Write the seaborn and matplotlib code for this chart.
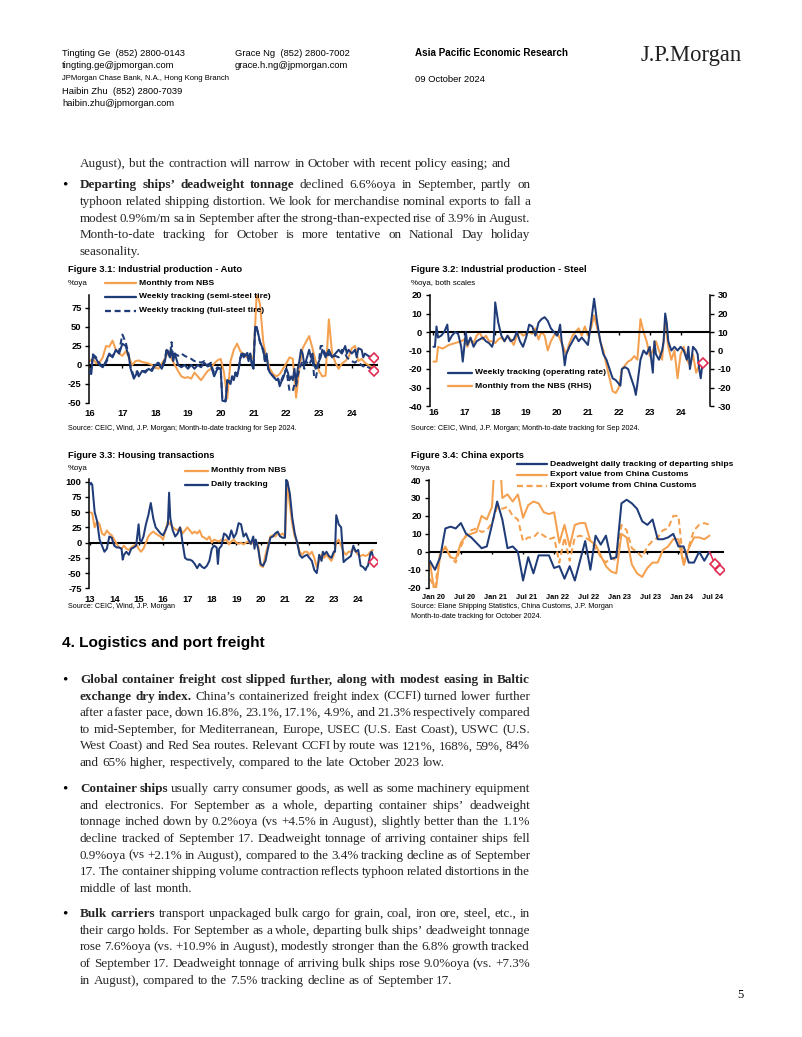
import numpy as np
import pandas as pd
import matplotlib
matplotlib.use("Agg")
import matplotlib.pyplot as plt
import seaborn as sns
from matplotlib.lines import Line2D

sns.set_style("white")
SANS = ['Liberation Sans', 'DejaVu Sans']
SERIF = ['Liberation Serif', 'DejaVu Serif']
plt.rcParams['font.family'] = SANS
plt.rcParams['axes.linewidth'] = 0.9

ORANGE = '#F4A04E'
BLUE = '#1F3C78'
RED = '#E02A50'

# ---------------- DATA ----------------
# Fig 3.1 Auto (%oya)
auto_nbs_start = 2016.0
auto_nbs_v = [5, 8, 2, 3, 10, 25, 24, 32, 20, 15,
              12, 18, 10, 0, 5, 6, 4, 3, 2, 0,
              -3, -5, 2, 8, 18, 8, 0, -8, -15, -17,
              -16, -18, -10, -15, -20, -14, -8, -5, 2, 6,
              8, -10, -44, 5, 20, 28, 18, 14, 10, 12,
              8, 95, 80, 30, 8, -5, -12, -15, -12, -5,
              2, 10, 8, -43, -5, 22, 30, 38, 22, 5,
              -8, -15, -14, 60, 15, 3, -5, 2, 5, 10,
              22, 25, 5, 8, 3, 0, -3]
auto_semi = [(2016.0,-10),(2016.05,-12),(2016.1,12),(2016.2,8),(2016.3,0),(2016.4,-3),(2016.5,5),(2016.6,15),(2016.7,10),(2016.8,20),(2016.9,15),(2017.0,28),(2017.1,25),(2017.2,10),(2017.25,-5),(2017.35,-18),(2017.45,-10),(2017.5,-15),(2017.6,-8),(2017.7,-10),(2017.8,-5),(2017.9,-8),(2018.0,0),(2018.1,2),(2018.2,-5),(2018.3,5),(2018.35,20),(2018.45,10),(2018.5,20),(2018.55,5),(2018.6,15),(2018.7,0),(2018.8,-3),(2018.9,0),(2019.0,-5),(2019.1,0),(2019.2,-5),(2019.3,0),(2019.4,-3),(2019.5,3),(2019.6,-2),(2019.7,0),(2019.75,-8),(2019.8,-15),(2019.9,-5),(2020.0,-5),(2020.05,-47),(2020.15,-48),(2020.2,-20),(2020.3,-25),(2020.35,-15),(2020.4,-20),(2020.45,-10),(2020.5,-15),(2020.55,-5),(2020.6,10),(2020.65,15),(2020.7,10),(2020.8,15),(2020.85,5),(2020.9,15),(2020.95,0),(2021.0,-5),(2021.05,50),(2021.1,50),(2021.2,30),(2021.3,20),(2021.35,5),(2021.4,15),(2021.45,-5),(2021.5,-10),(2021.6,-15),(2021.7,-20),(2021.75,-18),(2021.8,-28),(2021.85,-22),(2021.9,-18),(2022.0,-5),(2022.05,-10),(2022.1,-20),(2022.15,-15),(2022.2,-20),(2022.25,-5),(2022.3,-25),(2022.35,-5),(2022.4,5),(2022.45,20),(2022.5,15),(2022.55,0),(2022.6,5),(2022.7,20),(2022.75,10),(2022.8,15),(2022.85,0),(2022.9,-5),(2023.0,5),(2023.05,10),(2023.1,20),(2023.15,15),(2023.2,10),(2023.25,15),(2023.3,20),(2023.4,10),(2023.5,15),(2023.6,20),(2023.7,15),(2023.8,25),(2023.85,15),(2023.9,20),(2024.0,15),(2024.1,20),(2024.15,10),(2024.2,22),(2024.3,20),(2024.35,10),(2024.4,15),(2024.5,12),(2024.6,10)]
auto_full = [(2016.0,-12),(2016.05,-5),(2016.1,14),(2016.2,10),(2016.3,2),(2016.4,-2),(2016.5,3),(2016.6,12),(2016.7,12),(2016.8,18),(2016.9,18),(2017.0,40),(2017.1,30),(2017.2,12),(2017.25,-3),(2017.35,-15),(2017.45,-8),(2017.5,-12),(2017.6,-8),(2017.7,-8),(2017.8,-5),(2017.9,-6),(2018.0,2),(2018.1,3),(2018.2,-3),(2018.3,8),(2018.35,22),(2018.45,12),(2018.5,30),(2018.55,10),(2018.6,15),(2018.7,12),(2018.8,15),(2018.9,12),(2019.0,10),(2019.1,8),(2019.2,5),(2019.3,5),(2019.4,3),(2019.5,5),(2019.6,0),(2019.7,3),(2019.75,-5),(2019.8,-10),(2019.9,-3),(2020.0,-5),(2020.05,-45),(2020.15,-47),(2020.2,-20),(2020.3,-22),(2020.35,-15),(2020.4,-18),(2020.45,-10),(2020.5,-12),(2020.55,-5),(2020.6,8),(2020.65,18),(2020.7,12),(2020.8,18),(2020.85,8),(2020.9,15),(2020.95,2),(2021.0,-3),(2021.05,48),(2021.1,48),(2021.2,30),(2021.3,18),(2021.35,5),(2021.4,12),(2021.45,-5),(2021.5,-10),(2021.6,-15),(2021.7,-20),(2021.75,-18),(2021.8,-25),(2021.85,-20),(2021.9,-15),(2022.0,-5),(2022.05,-20),(2022.1,-34),(2022.2,-34),(2022.25,-25),(2022.3,-28),(2022.35,-15),(2022.4,-5),(2022.45,0),(2022.5,5),(2022.55,-5),(2022.6,5),(2022.7,0),(2022.75,5),(2022.8,10),(2022.85,-15),(2022.9,-18),(2023.0,5),(2023.05,25),(2023.1,25),(2023.15,18),(2023.2,15),(2023.25,10),(2023.3,15),(2023.4,10),(2023.5,12),(2023.6,10),(2023.7,20),(2023.8,15),(2023.85,10),(2023.9,8),(2024.0,5),(2024.1,3),(2024.15,5),(2024.2,3),(2024.3,0),(2024.35,-2),(2024.4,0),(2024.5,-3),(2024.6,-5)]
auto_mtd_t = 2024.67
auto_semi_mtd = 9
auto_full_mtd = -8

# Fig 3.2 Steel (%oya): weekly on left scale, NBS monthly on right scale
steel_wk = [(2016.0,-8),(2016.05,-8),(2016.1,3),(2016.15,-3),(2016.25,-2),(2016.35,0),(2016.45,4),(2016.5,-5),(2016.6,-2),(2016.7,0),(2016.8,-1),(2016.9,-8),(2016.95,-16),(2017.05,0),(2017.1,-7),(2017.2,-3),(2017.3,-8),(2017.4,-5),(2017.5,-4),(2017.6,-3),(2017.7,-5),(2017.8,-6),(2017.9,-8),(2017.95,-5),(2018.0,16),(2018.1,5),(2018.2,-2),(2018.3,-5),(2018.4,-2),(2018.5,-5),(2018.6,-4),(2018.7,0),(2018.8,-5),(2018.9,-8),(2019.0,-3),(2019.1,4),(2019.2,3),(2019.3,-2),(2019.4,5),(2019.5,7),(2019.6,8),(2019.7,6),(2019.8,2),(2019.9,0),(2020.0,-2),(2020.05,0),(2020.1,4),(2020.15,-5),(2020.2,-10),(2020.25,-18),(2020.3,-12),(2020.4,-8),(2020.5,-5),(2020.6,-2),(2020.7,-5),(2020.8,-3),(2020.9,-5),(2021.0,-7),(2021.1,5),(2021.2,18),(2021.3,5),(2021.4,-5),(2021.5,-12),(2021.6,-15),(2021.7,-20),(2021.8,-25),(2021.9,-26),(2022.0,-28),(2022.05,-29),(2022.1,-20),(2022.2,-19),(2022.3,-20),(2022.4,-25),(2022.5,-30),(2022.55,-34),(2022.6,-28),(2022.7,-15),(2022.8,-10),(2022.9,-12),(2023.0,-8),(2023.1,-22),(2023.15,-5),(2023.2,-12),(2023.3,-15),(2023.4,-10),(2023.45,-5),(2023.5,10),(2023.55,5),(2023.6,-5),(2023.7,-10),(2023.8,-8),(2023.9,-10),(2024.0,-8),(2024.1,-10),(2024.2,-15),(2024.25,-8),(2024.3,-20),(2024.35,-15),(2024.4,-8),(2024.5,-10),(2024.55,-12),(2024.6,-20),(2024.65,-25),(2024.7,-18)]
steel_nbs = [(2016.0,-6),(2016.1,-6),(2016.15,2),(2016.3,1),(2016.5,3),(2016.7,4),(2016.9,5),(2017.0,6),(2017.1,2),(2017.2,6),(2017.3,4),(2017.4,8),(2017.5,10),(2017.6,6),(2017.7,8),(2017.8,5),(2017.9,5),(2018.0,4),(2018.1,6),(2018.2,7),(2018.3,5),(2018.4,8),(2018.5,6),(2018.6,3),(2018.7,8),(2018.8,10),(2018.9,8),(2019.0,9),(2019.1,10),(2019.2,9),(2019.3,12),(2019.4,6),(2019.5,10),(2019.6,8),(2019.7,0),(2019.8,5),(2019.9,8),(2020.0,10),(2020.2,2),(2020.3,-2),(2020.4,4),(2020.5,8),(2020.6,10),(2020.7,12),(2020.8,8),(2020.9,13),(2021.0,8),(2021.1,12),(2021.2,19),(2021.3,12),(2021.4,5),(2021.5,0),(2021.6,-8),(2021.7,-15),(2021.8,-22),(2021.9,-23),(2022.0,-20),(2022.1,-10),(2022.2,-8),(2022.3,-6),(2022.4,-5),(2022.5,-3),(2022.6,-5),(2022.7,17),(2022.8,10),(2022.9,5),(2023.0,-3),(2023.1,0),(2023.2,5),(2023.3,0),(2023.4,-5),(2023.5,15),(2023.6,2),(2023.7,-5),(2023.8,0),(2023.9,-15),(2024.0,-2),(2024.1,2),(2024.2,-5),(2024.3,-8),(2024.4,-2),(2024.5,-12),(2024.6,-8)]
steel_mtd = (2024.72, -17)

# Fig 3.3 Housing transactions (%oya)
hous_nbs_start = 2013.0
hous_nbs_v = [50, 48, 25, 35, 30, 15, 12, 20, 15, 12,
              5, -2, -8, -10, -5, -10, -12, -8, -5, -3,
              -10, -15, -10, 0, 10, 15, 18, 15, 12, 10,
              5, 20, 35, 30, 25, 22, 20, 25, 15, 20,
              25, 20, 15, 18, 15, 20, 10, 8, 5, 10,
              0, 5, 3, 2, 5, 3, 5, -3, 2, 5,
              0, -2, 0, -3, 0, 2, -2, 0, 2, -5,
              -38, -40, -20, -5, 10, 12, 10, 15, 12, 15,
              10, 100, 60, 30, 10, 0, -15, -20, -15, -15,
              -20, -15, -25, -40, -30, -20, -25, -20, -25, -30,
              -20, 0, 5, -5, -15, -20, -15, -15, -10, -15,
              -20, -22, -20, -22, -20, -15, -12]
hous_daily = [(2013.0,95),(2013.05,98),(2013.1,95),(2013.2,50),(2013.3,35),(2013.4,5),(2013.5,-5),(2013.6,-15),(2013.7,-10),(2013.8,10),(2013.9,8),(2014.0,-5),(2014.1,-8),(2014.2,-8),(2014.3,-10),(2014.35,-28),(2014.4,-20),(2014.5,-15),(2014.6,-20),(2014.7,-10),(2014.8,-8),(2014.9,-5),(2015.0,30),(2015.05,5),(2015.1,0),(2015.2,10),(2015.3,30),(2015.4,45),(2015.5,65),(2015.6,40),(2015.7,25),(2015.8,20),(2015.9,15),(2016.0,12),(2016.1,20),(2016.2,30),(2016.25,82),(2016.3,40),(2016.4,20),(2016.5,10),(2016.6,15),(2016.7,25),(2016.75,15),(2016.8,0),(2016.9,-25),(2017.0,-28),(2017.1,-28),(2017.2,-30),(2017.3,-35),(2017.4,-42),(2017.5,-35),(2017.6,-40),(2017.7,-42),(2017.8,-38),(2017.9,-30),(2018.0,-10),(2018.1,-5),(2018.2,-8),(2018.25,-35),(2018.3,-10),(2018.4,-5),(2018.5,15),(2018.6,12),(2018.7,5),(2018.8,20),(2018.9,8),(2019.0,15),(2019.1,32),(2019.2,30),(2019.3,10),(2019.4,15),(2019.5,5),(2019.6,-2),(2019.7,10),(2019.75,-10),(2019.8,5),(2019.9,-10),(2020.0,-35),(2020.1,-38),(2020.2,-30),(2020.3,-10),(2020.4,8),(2020.5,10),(2020.6,15),(2020.7,18),(2020.8,10),(2020.9,8),(2021.0,8),(2021.05,103),(2021.1,100),(2021.2,80),(2021.3,40),(2021.4,15),(2021.5,0),(2021.6,-20),(2021.7,-25),(2021.8,-22),(2021.9,-20),(2022.0,-25),(2022.1,-30),(2022.2,-45),(2022.3,-50),(2022.35,-38),(2022.4,-20),(2022.5,-30),(2022.55,-15),(2022.6,-20),(2022.7,-15),(2022.8,-22),(2022.9,-25),(2023.0,-15),(2023.05,-15),(2023.1,45),(2023.2,30),(2023.3,25),(2023.4,-32),(2023.5,-28),(2023.6,-25),(2023.7,-22),(2023.8,-5),(2023.9,-15),(2024.0,-12),(2024.1,-38),(2024.2,-40),(2024.3,-45),(2024.35,-40),(2024.4,-38),(2024.5,-18),(2024.55,-15),(2024.6,-22)]
hous_mtd = (2024.66, -32)

# Fig 3.4 China exports (%oya), monthly; month 0 = Jan 2020
exp_first_month = 1
exp_dwt = [-5, -10, -3, 13, 14, 13, 16, 10, 8, 5, 2, 3, 15, 28, 18, 2, 3, 0, -16, -3,
           -12, -2, -2, -2, -9, -8, -15, -8, -16, -5, 6, -10, 9, 4, 9, -4, -3, 27, 29, 27,
           24, 17, 15, 18, 7, 7, 8, 10, 3, 3, -6, -6, 0, -5, 0]
exp_value = [-5, -25, -2, 3, -3, -4, 5, 9, 10, 11, 20, 18, 25, 75, 30, 32, 28, 32, 19, 26,
             28, 27, 22, 21, 22, 5, 15, 3, 15, 16, 16, 6, 4, -2, -8, -11, -12, 10, 8, -7,
             -12, -14, -9, -6, -6, 1, 3, 7, 7, -7, 2, 8, 8, 7, 9]
exp_volume = [-15, -20, 0, 2, -3, -6, 3, 9, 12, 13, 11, 12, 16, 25, 24, 25, 20, 18, 6, 8,
              8, 11, 9, 7, 8, -6, 8, -5, 8, 9, 8, 6, 2, -3, -6, -3, -5, 15, 12, 2,
              0, -3, 3, 6, 8, 12, 13, 20, 20, -8, 3, 12, 15, 16, 15]
exp_mtd_months = [56, 57]
exp_mtd_vals = [-6.6, -10]
exp_tick_labels = ['Jan 20', 'Jul 20', 'Jan 21', 'Jul 21', 'Jan 22', 'Jul 22',
                   'Jan 23', 'Jul 23', 'Jan 24', 'Jul 24']

# ---------------- FIGURE ----------------
W, H = 802, 1037
fig = plt.figure(figsize=(W / 100, H / 100), dpi=100)
fig.patch.set_facecolor('white')
R = fig.canvas.get_renderer()


def fx(x):
    return x / W


def fy(y):
    return 1 - y / H


def text_width(s, size, family, weight='normal'):
    t = fig.text(0, 0, s, fontsize=size, family=family, weight=weight)
    w = t.get_window_extent(R).width
    t.remove()
    return w


def fit(s, target, family, weight='normal'):
    return 10 * target / text_width(s, 10, family, weight)


def put(x, y, s, size, family=SANS, weight='normal', ha='left', color='black'):
    return fig.text(fx(x), fy(y), s, fontsize=size, family=family, weight=weight,
                    ha=ha, va='center', color=color)


def para_line(x0, x1, y, s, nbold, size, justify=True):
    words = s.split(' ')
    objs, widths = [], []
    for i, w in enumerate(words):
        t = fig.text(0, fy(y), w, fontsize=size, family=SERIF,
                     weight='bold' if i < nbold else 'normal', va='center')
        objs.append(t)
        widths.append(t.get_window_extent(R).width)
    space = size * 100 / 72 * 0.25
    if justify and len(words) > 1:
        gap = (x1 - x0 - sum(widths)) / (len(words) - 1)
    else:
        gap = space
    x = x0
    for t, w in zip(objs, widths):
        t.set_x(fx(x))
        x += w + gap


# font sizes fitted to measured widths (slightly enlarged: reference uses a narrow face)
HS = fit("Tingting Ge  (852) 2800-0143", 118, SANS) * 1.04
BODY = fit("August), but the contraction will narrow in October with recent policy easing; and", 431, SERIF)
TFS = fit("Figure 3.1: Industrial production - Auto", 167, SANS, 'bold') * 1.04
LFS = fit("Weekly tracking (semi-steel tire)", 125, SANS, 'bold') * 1.04
TKS = LFS * 1.1
XKS4 = fit("Jan 20", 23, SANS, 'bold')
SFS = fit("Source: CEIC, Wind, J.P. Morgan; Month-to-date tracking for Sep 2024.", 222, SANS) * 1.03
LW = 1.45

# ---------------- HEADER ----------------
put(62, 53, "Tingting Ge  (852) 2800-0143", HS)
put(62, 66, "tingting.ge@jpmorgan.com", HS)
put(62, 78, "JPMorgan Chase Bank, N.A., Hong Kong Branch",
    fit("JPMorgan Chase Bank, N.A., Hong Kong Branch", 167, SANS))
put(62, 91, "Haibin Zhu  (852) 2800-7039", HS)
put(62, 103, "haibin.zhu@jpmorgan.com", HS)
put(235, 53, "Grace Ng  (852) 2800-7002", HS)
put(235, 66, "grace.h.ng@jpmorgan.com", HS)
put(415, 53, "Asia Pacific Economic Research",
    fit("Asia Pacific Economic Research", 152, SANS, 'bold'), weight='bold')
put(415, 80, "09 October 2024", HS)
put(641, 55, "J.P.Morgan", fit("J.P.Morgan", 101, SERIF), family=SERIF, color='#222222')

# ---------------- BODY TEXT ----------------
XL, XR = 80, 530
para_line(XL, XR, 164, "August), but the contraction will narrow in October with recent policy easing; and", 0, BODY, False)


def bullet_par(y0, lines, step):
    put(62, y0, "•", BODY * 1.15, family=SERIF)
    for i, (s, nb) in enumerate(lines):
        last = i == len(lines) - 1
        para_line(XL, XR, y0 + i * step, s, nb, BODY, not last)


bullet_par(185, [
    ("Departing ships’ deadweight tonnage declined 6.6%oya in September, partly on", 4),
    ("typhoon related shipping distortion. We look for merchandise nominal exports to fall a", 0),
    ("modest 0.9%m/m sa in September after the strong-than-expected rise of 3.9% in August.", 0),
    ("Month-to-date tracking for October is more tentative on National Day holiday", 0),
    ("seasonality.", 0)], 16.8)

put(62, 643, "4. Logistics and port freight",
    fit("4. Logistics and port freight", 203, SANS, 'bold'), weight='bold')

bullet_par(680, [
    ("Global container freight cost slipped further, along with modest easing in Baltic", 12),
    ("exchange dry index. China’s containerized freight index (CCFI) turned lower further", 3),
    ("after a faster pace, down 16.8%, 23.1%, 17.1%, 4.9%, and 21.3% respectively compared", 0),
    ("to mid-September, for Mediterranean, Europe, USEC (U.S. East Coast), USWC (U.S.", 0),
    ("West Coast) and Red Sea routes. Relevant CCFI by route was 121%, 168%, 59%, 84%", 0),
    ("and 65% higher, respectively, compared to the late October 2023 low.", 0)], 16.6)

bullet_par(789, [
    ("Container ships usually carry consumer goods, as well as some machinery equipment", 2),
    ("and electronics. For September as a whole, departing container ships’ deadweight", 0),
    ("tonnage inched down by 0.2%oya (vs +4.5% in August), slightly better than the 1.1%", 0),
    ("decline tracked of September 17. Deadweight tonnage of arriving container ships fell", 0),
    ("0.9%oya (vs +2.1% in August), compared to the 3.4% tracking decline as of September", 0),
    ("17. The container shipping volume contraction reflects typhoon related distortions in the", 0),
    ("middle of last month.", 0)], 16.67)

bullet_par(914, [
    ("Bulk carriers transport unpackaged bulk cargo for grain, coal, iron ore, steel, etc., in", 2),
    ("their cargo holds. For September as a whole, departing bulk ships’ deadweight tonnage", 0),
    ("rose 7.6%oya (vs. +10.9% in August), modestly stronger than the 6.8% growth tracked", 0),
    ("of September 17. Deadweight tonnage of arriving bulk ships rose 9.0%oya (vs. +7.3%", 0),
    ("in August), compared to the 7.5% tracking decline as of September 17.", 0)], 16.7)

put(737, 995, "5", BODY * 0.95, family=SERIF)


# ---------------- CHART HELPERS ----------------
def make_ax(x0, y0, x1, y1):
    return fig.add_axes([fx(x0), fy(y1), (x1 - x0) / W, (y1 - y0) / H])


def series(ax, t, v, color, ls='-', lw=LW, z=2):
    df = pd.DataFrame({'t': list(t), 'v': list(v)})
    sns.lineplot(data=df, x='t', y='v', ax=ax, color=color, linewidth=lw,
                 linestyle=ls, estimator=None, sort=False, zorder=z, legend=False)


def pairs(p):
    return [a for a, b in p], [b for a, b in p]


def mtd(ax, ts, vs):
    df = pd.DataFrame({'t': ts, 'v': vs})
    sns.lineplot(data=df, x='t', y='v', ax=ax, color=RED, linewidth=1.1,
                 estimator=None, sort=False, zorder=4, legend=False)
    sns.lineplot(data=df.iloc[1:], x='t', y='v', ax=ax, color=RED, linewidth=0,
                 marker='D', markersize=4.8, markerfacecolor='white',
                 markeredgecolor=RED, markeredgewidth=1.2, estimator=None,
                 zorder=5, legend=False)


def style(ax, xlim, ylim, yticks, xticks, xlabels, xpad, zero_ticks=None, xfs=None):
    ax.set_xlim(*xlim)
    ax.set_ylim(*ylim)
    ax.set_yticks(yticks)
    ax.set_yticklabels([str(v) for v in yticks], fontsize=TKS, fontweight='bold')
    ax.set_xticks(xticks)
    ax.set_xticklabels(xlabels, fontsize=xfs or TKS, fontweight='bold')
    for s in ['top', 'right', 'bottom']:
        ax.spines[s].set_visible(False)
    ax.spines['left'].set_color('black')
    ax.spines['left'].set_linewidth(1.1)
    ax.tick_params(axis='y', length=3, width=1.0, pad=2.5, direction='out', left=True, colors='black')
    ax.tick_params(axis='x', length=0, pad=xpad, colors='black')
    ax.axhline(0, color='black', lw=1.5, zorder=1)
    if zero_ticks is not None:
        span = (ylim[1] - ylim[0]) * 0.025
        ax.vlines(zero_ticks, -span, 0, color='black', lw=1.0, zorder=1)
    ax.set_xlabel('')
    ax.set_ylabel('')
    ax.grid(False)
    ax.patch.set_alpha(0)


def leg(x0, x1, y, label, color, ls='-'):
    fig.add_artist(Line2D([fx(x0), fx(x1)], [fy(y), fy(y)], transform=fig.transFigure,
                          color=color, lw=LW + 0.2, linestyle=ls))
    put(x1 + 3, y, label, LFS, weight='bold')


years16 = list(range(2016, 2025))
ylab16 = [str(y)[2:] for y in years16]

# ---------------- FIG 3.1 ----------------
put(68, 270, "Figure 3.1: Industrial production - Auto", TFS, weight='bold')
put(68, 283, "%oya", SFS * 1.1)
ax1 = make_ax(89.3, 295, 378, 403)
t = [round(auto_nbs_start + 0.1 * i, 2) for i in range(len(auto_nbs_v))]
series(ax1, t, auto_nbs_v, ORANGE)
st, sv = pairs(auto_semi)
series(ax1, st, sv, BLUE, z=3)
ft, fv = pairs(auto_full)
series(ax1, ft, fv, BLUE, ls=(0, (3.0, 1.8)), z=3)
mtd(ax1, [st[-1], auto_mtd_t], [sv[-1], auto_semi_mtd])
mtd(ax1, [ft[-1], auto_mtd_t], [fv[-1], auto_full_mtd])
style(ax1, (2015.99, 2024.8), (-50, 92), [-50, -25, 0, 25, 50, 75], years16, ylab16, 4.5,
      zero_ticks=years16)
leg(105, 136, 283.3, "Monthly from NBS", ORANGE)
leg(105, 136, 296.8, "Weekly tracking (semi-steel tire)", BLUE)
leg(105, 136, 310.5, "Weekly tracking (full-steel tire)", BLUE, ls=(0, (2.6, 1.6)))
put(68, 428, "Source: CEIC, Wind, J.P. Morgan; Month-to-date tracking for Sep 2024.", SFS)

# ---------------- FIG 3.2 ----------------
put(411, 270, "Figure 3.2: Industrial production - Steel", TFS, weight='bold')
put(411, 283, "%oya, both scales", SFS * 1.1)
ax2 = make_ax(430, 295, 710, 406)
ax2r = ax2.twinx()
nt, nv = pairs(steel_nbs)
series(ax2r, nt, nv, ORANGE)
wt, wv = pairs(steel_wk)
series(ax2, wt, wv, BLUE, z=3)
mtd(ax2, [wt[-1], steel_mtd[0]], [wv[-1], steel_mtd[1]])
style(ax2, (2015.89, 2024.95), (-40, 20), [-40, -30, -20, -10, 0, 10, 20], years16, ylab16, 1.2,
      zero_ticks=years16)
ax2.set_zorder(ax2r.get_zorder() + 1)
ax2r.set_ylim(-30, 30)
ax2r.set_yticks([-30, -20, -10, 0, 10, 20, 30])
ax2r.set_yticklabels([str(v) for v in [-30, -20, -10, 0, 10, 20, 30]], fontsize=TKS, fontweight='bold')
for s in ['top', 'left', 'bottom']:
    ax2r.spines[s].set_visible(False)
ax2r.spines['right'].set_color('black')
ax2r.spines['right'].set_linewidth(1.1)
ax2r.tick_params(axis='y', length=3, width=1.0, pad=2.5, direction='out', right=True, colors='black')
ax2r.set_ylabel('')
ax2r.grid(False)
leg(448, 472, 372.7, "Weekly tracking (operating rate)", BLUE)
leg(448, 472, 386, "Monthly from the NBS (RHS)", ORANGE)
put(411, 428, "Source: CEIC, Wind, J.P. Morgan; Month-to-date tracking for Sep 2024.", SFS)

# ---------------- FIG 3.3 ----------------
put(68, 456, "Figure 3.3: Housing transactions", TFS, weight='bold')
put(68, 468, "%oya", SFS * 1.1)
ax3 = make_ax(89.3, 479, 377, 588.3)
years13 = list(range(2013, 2025))
t = [round(hous_nbs_start + 0.1 * i, 2) for i in range(len(hous_nbs_v))]
series(ax3, t, hous_nbs_v, ORANGE)
ht, hv = pairs(hous_daily)
series(ax3, ht, hv, BLUE, z=3)
mtd(ax3, [ht[-1], hous_mtd[0]], [hv[-1], hous_mtd[1]])
style(ax3, (2012.98, 2024.77), (-75, 104.4), [-75, -50, -25, 0, 25, 50, 75, 100], years13,
      [str(y)[2:] for y in years13], 4.5, zero_ticks=years13)
leg(185, 208, 471, "Monthly from NBS", ORANGE)
leg(185, 208, 485, "Daily tracking", BLUE)
put(68, 607, "Source: CEIC, Wind, J.P. Morgan", SFS)

# ---------------- FIG 3.4 ----------------
put(411, 456, "Figure 3.4: China exports", TFS, weight='bold')
put(411, 468, "%oya", SFS * 1.1)
ax4 = make_ax(429.3, 480, 723.5, 587.7)
m = list(range(exp_first_month, exp_first_month + len(exp_dwt)))
series(ax4, m, exp_volume, ORANGE, ls=(0, (3.0, 1.8)))
series(ax4, m, exp_value, ORANGE)
series(ax4, m, exp_dwt, BLUE, z=3)
mtd(ax4, [m[-1]] + exp_mtd_months, [exp_dwt[-1]] + exp_mtd_vals)
tick_pos = [1.66 + 6 * k for k in range(len(exp_tick_labels))]
style(ax4, (0.9, 57.7), (-20, 40), [-20, -10, 0, 10, 20, 30, 40], tick_pos, exp_tick_labels, 4.5,
      zero_ticks=[6 * k + 1 for k in range(1, 10)], xfs=XKS4)
leg(517, 547, 464.3, "Deadweight daily tracking of departing ships", BLUE)
leg(517, 547, 475, "Export value from China Customs", ORANGE)
leg(517, 547, 485.7, "Export volume from China Customs", ORANGE, ls=(0, (2.6, 1.6)))
put(411, 607, "Source: Elane Shipping Statistics, China Customs, J.P. Morgan", SFS)
put(411, 617, "Month-to-date tracking for October 2024.", SFS)

fig.savefig("out.png", dpi=100, facecolor='white')
